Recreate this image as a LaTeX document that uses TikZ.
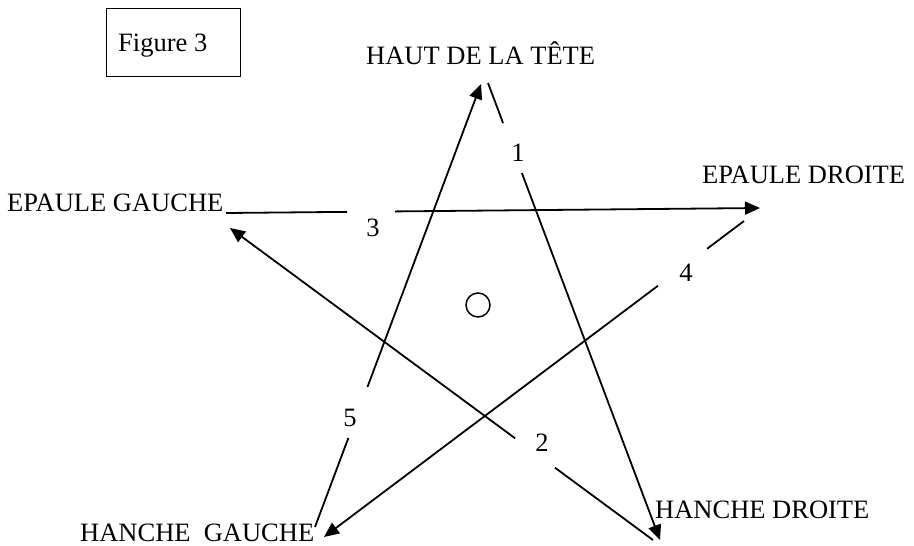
\documentclass[tikz,border=0pt]{standalone}
\usepackage{fontspec}
\setmainfont{Liberation Serif}
\usetikzlibrary{arrows.meta,calc}
\begin{document}
\begin{tikzpicture}[x=1pt,y=-1pt,
  lbl/.style={anchor=base west, inner sep=0pt, font=\fontsize{26.5}{30}\selectfont},
  num/.style={inner sep=0pt, font=\fontsize{26.5}{30}\selectfont},
  seg/.style={line width=1.8pt},
  arr/.style={line width=1.8pt, -{Triangle[length=15pt,width=13pt]}}]
\useasboundingbox (0,0) rectangle (914,546);
% title box
\node[draw, line width=1.3pt, minimum width=134pt, minimum height=68pt, anchor=north west, inner sep=0pt] (fig) at (106,8) {};
\node[lbl] (figtext) at (118,51) {Figure 3};
% labels
\node[lbl] (haut) at (366,64) {HAUT DE LA TÊTE};
\node[lbl] (eg) at (7,211) {EPAULE GAUCHE};
\node[lbl] (ed) at (702,183) {EPAULE DROITE};
\node[lbl] (hd) at (655,518) {HANCHE DROITE};
\node[lbl] (hg) at (80,541) {HANCHE\ \ GAUCHE};
% centre circle
\node[draw, circle, line width=1.5pt, minimum size=24pt, inner sep=0pt] (c) at (478,305) {};
% endpoints
\coordinate (a1) at (488,83);  \coordinate (b1) at (660,540);
\coordinate (a2) at (653,540); \coordinate (b2) at (230,228);
\coordinate (a3) at (226,213); \coordinate (b3) at (760,208);
\coordinate (a4) at (744,221); \coordinate (b4) at (324,537);
\coordinate (a5) at (315,527); \coordinate (b5) at (481,84);
% line 1
\draw[seg] (a1) -- ($(a1)!0.0875!(b1)$);
\draw[arr] ($(a1)!0.197!(b1)$) -- (b1);
\node[num] (n1) at (518,153) {1};
% line 2
\draw[seg] (a2) -- ($(a2)!0.232!(b2)$);
\draw[arr] ($(a2)!0.326!(b2)$) -- (b2);
\node[num] (n2) at (542,443) {2};
% line 3
\draw[seg] (a3) -- ($(a3)!0.2266!(b3)$);
\draw[arr] ($(a3)!0.3165!(b3)$) -- (b3);
\node[num] (n3) at (373,228) {3};
% line 4
\draw[seg] (a4) -- ($(a4)!0.088!(b4)$);
\draw[arr] ($(a4)!0.205!(b4)$) -- (b4);
\node[num] (n4) at (686,273) {4};
% line 5
\draw[seg] (a5) -- ($(a5)!0.201!(b5)$);
\draw[arr] ($(a5)!0.316!(b5)$) -- (b5);
\node[num] (n5) at (350,418) {5};
\end{tikzpicture}
\end{document}
